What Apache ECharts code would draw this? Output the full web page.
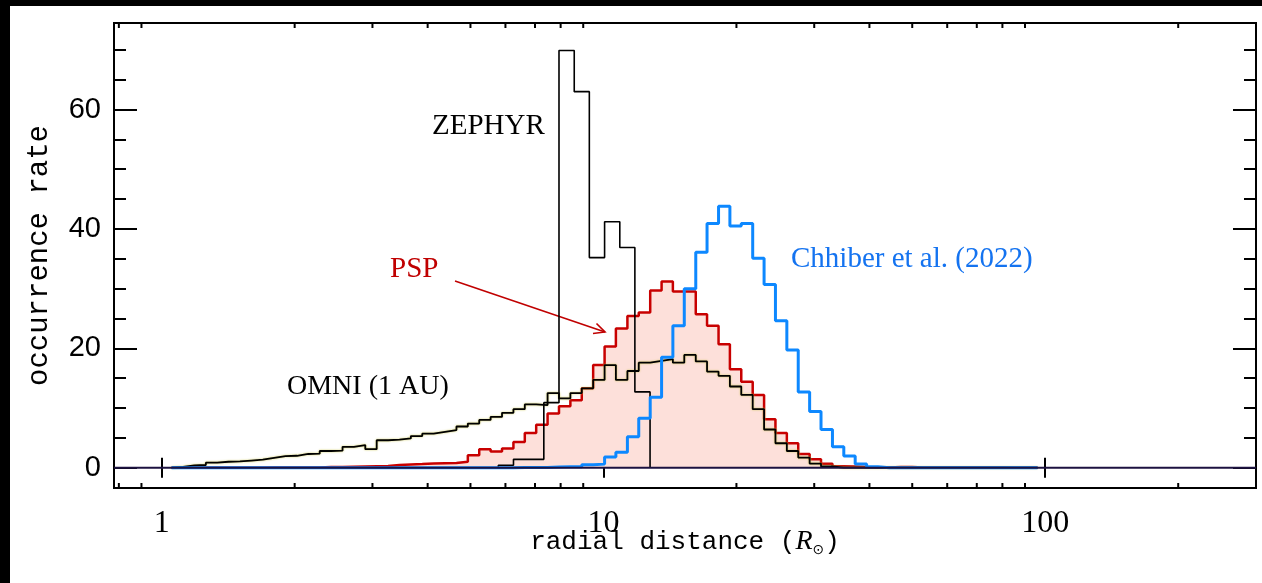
<!DOCTYPE html>
<html>
<head>
<meta charset="utf-8">
<script src="https://cdn.jsdelivr.net/npm/echarts@6.0.0/dist/echarts.min.js"></script>
<style>
  html, body { margin: 0; padding: 0; background: #000; width: 1262px; height: 583px; overflow: hidden; }
  #chart { position: absolute; left: 10px; top: 6px; width: 1252px; height: 577px; background: #fff; }
</style>
</head>
<body>
<div id="chart"></div>
<script>
// shared log bins (R_sun) for OMNI, PSP and Chhiber histograms
const binEdges = [
  1.053, 1.118, 1.186, 1.259, 1.336, 1.417, 1.504, 1.596, 1.694, 1.797,
  1.907, 2.024, 2.148, 2.279, 2.419, 2.567, 2.724, 2.890, 3.067, 3.255,
  3.454, 3.665, 3.889, 4.127, 4.380, 4.648, 4.932, 5.234, 5.554, 5.894,
  6.255, 6.637, 7.043, 7.474, 7.932, 8.417, 8.932, 9.478, 10.06, 10.67,
  11.33, 12.02, 12.76, 13.54, 14.36, 15.24, 16.18, 17.16, 18.22, 19.33,
  20.51, 21.77, 23.10, 24.51, 26.01, 27.60, 29.29, 31.08, 32.99, 35.00,
  37.14, 39.42, 41.83, 44.39, 47.10, 49.99, 53.04, 56.29, 59.73, 63.39,
  67.27, 71.38, 75.75, 80.38, 85.30, 90.52, 96.06
]

const omniRate = [
  0.15, 0.4, 0.45, 0.85, 1.0, 1.05, 1.2, 1.35, 1.65, 1.95,
  2.0, 2.3, 2.35, 2.8, 2.85, 3.5, 3.8, 3.1, 4.6, 4.7,
  4.9, 5.3, 5.7, 6.0, 6.3, 6.9, 7.4, 8.0, 8.5, 9.2,
  9.8, 10.6, 10.5, 12.5, 11.6, 12.5, 13.3, 14.7, 17.2, 14.7,
  16.2, 17.6, 17.9, 18.2, 17.6, 18.9, 17.8, 16.1, 15.4, 13.6,
  12.2, 9.8, 6.4, 4.1, 2.8, 1.7, 0.7, 0.2, 0, 0,
  0, 0, 0, 0, 0, 0, 0, 0, 0, 0,
  0, 0, 0, 0, 0, 0
]

const pspRate = [
  0, 0, 0, 0, 0, 0, 0, 0, 0.02, 0.02,
  0.03, 0.05, 0.05, 0.1, 0.1, 0.15, 0.2, 0.25, 0.3, 0.45,
  0.55, 0.6, 0.7, 0.75, 0.8, 1.0, 2.1, 3.1, 2.7, 3.2,
  4.3, 5.8, 7.2, 9.1, 10.3, 11.3, 13.3, 17.2, 20.3, 23.3,
  25.4, 26.0, 29.7, 31.2, 29.5, 29.5, 25.7, 23.8, 20.7, 16.5,
  14.4, 12.2, 8.1, 5.8, 4.1, 2.3, 1.4, 0.65, 0.25, 0.2,
  0.1, 0.05, 0.05, 0.1, 0.1, 0.05, 0.05, 0.05, 0.05, 0.05,
  0.05, 0.05, 0.05, 0, 0, 0
]

const chhiberRate = [
  0, 0, 0, 0, 0, 0, 0, 0, 0, 0,
  0, 0, 0, 0, 0, 0, 0, 0, 0, 0,
  0, 0, 0, 0, 0, 0, 0, 0, 0, 0,
  0.05, 0.05, 0.05, 0.1, 0.15, 0.15, 0.5, 0.6, 1.8, 2.6,
  5.2, 8.3, 11.8, 18.5, 23.8, 30.0, 36.1, 40.9, 43.8, 40.5,
  40.9, 35.1, 30.7, 24.6, 19.7, 12.7, 9.4, 6.4, 3.5, 1.96,
  0.62, 0.17, 0, 0, 0, 0, 0, 0, 0, 0,
  0, 0, 0, 0, 0, 0
]

// ZEPHYR uses its own, wider bins
const zephyrEdges = [5.782, 6.257, 6.771, 7.329, 7.932, 8.588, 9.291, 10.06, 10.89, 11.78, 12.75]
const zephyrRate = [0.4, 1.4, 1.4, 10.9, 69.9, 63.0, 35.2, 41.2, 36.9, 12.7]

const xRange = [0.78, 300]
const yRange = [-3.4, 74.5]
const xMinorTicks = [0.8, 0.9, 2, 3, 4, 5, 6, 7, 8, 9, 20, 30, 40, 50, 60, 70, 80, 90, 200]
const yMajorTicks = [0, 20, 40, 60]
const yMinorTicks = [5, 10, 15, 25, 30, 35, 45, 50, 55, 65, 70]

// histogram outline: each value holds across its bin (step 'end')
function stepData(edges, values) {
  const last = edges.length - 1
  const points = [[edges[0], 0]]
  values.forEach((v, i) => points.push([edges[i], v]))
  points.push([edges[last], values[values.length - 1]])
  points.push([edges[last], 0])
  return points
}

const tickStyle = { color: '#000', width: 2 }

function yAxisFor(position, ticks, length, withLabels) {
  return {
    type: 'value',
    position,
    min: yRange[0],
    max: yRange[1],
    axisLine: { show: false },
    splitLine: { show: false },
    axisTick: { inside: true, length, customValues: ticks, lineStyle: tickStyle },
    axisLabel: withLabels
      ? { customValues: ticks, margin: 13, color: '#000', fontFamily: 'Liberation Sans', fontSize: 29 }
      : { show: false }
  }
}

function isDecade(value) {
  const p = Math.log10(value)
  return value >= 1 && Math.abs(p - Math.round(p)) < 1e-6
}

function renderMinorTick(params, api) {
  const x = api.coord([api.value(0), 0])[0]
  const cs = params.coordSys
  const style = { stroke: '#000', lineWidth: 2 }
  return {
    type: 'group',
    children: [
      { type: 'line', shape: { x1: x, y1: cs.y + cs.height, x2: x, y2: cs.y + cs.height - 5 }, style },
      { type: 'line', shape: { x1: x, y1: cs.y, x2: x, y2: cs.y + 5 }, style }
    ]
  }
}

const chart = echarts.init(document.getElementById('chart'))

const leftY = yAxisFor('left', yMajorTicks, 23, true)
leftY.name = 'occurrence rate'
leftY.nameLocation = 'middle'
leftY.nameGap = 60
leftY.nameMoveOverlap = false
leftY.nameTextStyle = { fontFamily: 'Liberation Mono', fontSize: 29, color: '#000' }

chart.setOption({
  animation: false,
  backgroundColor: '#fff',
  grid: {
    left: 104,
    top: 17,
    width: 1142,
    height: 465,
    show: true,
    borderColor: '#000',
    borderWidth: 2,
    backgroundColor: 'transparent'
  },
  xAxis: [
    {
      type: 'log',
      logBase: 10,
      position: 'bottom',
      min: xRange[0],
      max: xRange[1],
      axisLine: { show: false },
      splitLine: { show: false },
      axisTick: { inside: true, length: 10, lineStyle: tickStyle },
      axisLabel: {
        margin: 20,
        color: '#000',
        fontFamily: 'Liberation Serif',
        fontSize: 32,
        formatter: (value) => (isDecade(value) ? String(Math.round(value)) : '')
      },
      name: '{t|radial distance (}{i|R}{s|⊙}{t|)}',
      nameLocation: 'middle',
      nameGap: 39,
      nameMoveOverlap: false,
      nameTextStyle: {
        color: '#000',
        rich: {
          t: { fontFamily: 'Liberation Mono', fontSize: 26, color: '#000', lineHeight: 30 },
          i: { fontFamily: 'Liberation Serif', fontStyle: 'italic', fontSize: 28, color: '#000', lineHeight: 30 },
          s: { fontFamily: 'DejaVu Sans', fontSize: 14, color: '#000', verticalAlign: 'bottom', lineHeight: 14 }
        }
      }
    },
    {
      type: 'log',
      logBase: 10,
      position: 'top',
      min: xRange[0],
      max: xRange[1],
      axisLine: { show: false },
      splitLine: { show: false },
      axisTick: { inside: true, length: 10, lineStyle: tickStyle },
      axisLabel: { show: false }
    }
  ],
  yAxis: [
    leftY,
    yAxisFor('left', yMinorTicks, 12, false),
    yAxisFor('right', yMajorTicks, 23, false),
    yAxisFor('right', yMinorTicks, 12, false)
  ],
  series: [
    {
      name: 'PSP',
      type: 'line',
      step: 'end',
      data: stepData(binEdges, pspRate),
      showSymbol: false,
      silent: true,
      z: 2,
      lineStyle: { color: '#c80000', width: 2.5 },
      areaStyle: { color: '#fde0da', opacity: 1 }
    },
    {
      name: 'OMNI (1 AU)',
      type: 'line',
      step: 'end',
      data: stepData(binEdges, omniRate),
      showSymbol: false,
      silent: true,
      z: 3,
      lineStyle: { color: '#000', width: 1.8, shadowColor: 'rgba(205, 200, 80, 0.95)', shadowBlur: 2 }
    },
    {
      name: 'ZEPHYR',
      type: 'line',
      step: 'end',
      data: stepData(zephyrEdges, zephyrRate),
      showSymbol: false,
      silent: true,
      z: 4,
      lineStyle: { color: '#000', width: 1.6 }
    },
    {
      name: 'Chhiber et al. (2022)',
      type: 'line',
      step: 'end',
      data: stepData(binEdges, chhiberRate),
      showSymbol: false,
      silent: true,
      z: 5,
      lineStyle: { color: '#0d88ff', width: 3 }
    },
    {
      name: 'zero',
      type: 'line',
      data: [[xRange[0], 0], [xRange[1], 0]],
      showSymbol: false,
      silent: true,
      z: 6,
      lineStyle: { color: '#1c1240', width: 2 }
    },
    {
      name: 'minor ticks',
      type: 'custom',
      data: xMinorTicks.map((v) => [v, 0]),
      renderItem: renderMinorTick,
      clip: false,
      silent: true,
      z: 7
    }
  ],
  graphic: [
    {
      type: 'text', left: 422, top: 106,
      style: { text: 'ZEPHYR', fill: '#000', font: '29px "Liberation Serif"' }
    },
    {
      type: 'text', left: 380, top: 249,
      style: { text: 'PSP', fill: '#c00000', font: '29px "Liberation Serif"' }
    },
    {
      type: 'text', left: 277, top: 367,
      style: { text: 'OMNI (1 AU)', fill: '#000', font: '28px "Liberation Serif"' }
    },
    {
      type: 'text', left: 781, top: 239,
      style: { text: 'Chhiber et al. (2022)', fill: '#1473f0', font: '29px "Liberation Serif"' }
    },
    {
      type: 'line',
      shape: { x1: 445, y1: 275, x2: 595, y2: 326 },
      style: { stroke: '#c00000', lineWidth: 1.6 }
    },
    {
      type: 'polyline',
      shape: { points: [[586.5, 317.5], [595, 326], [583, 327.5]] },
      style: { stroke: '#c00000', lineWidth: 1.6, fill: null }
    }
  ]
})
</script>
</body>
</html>
